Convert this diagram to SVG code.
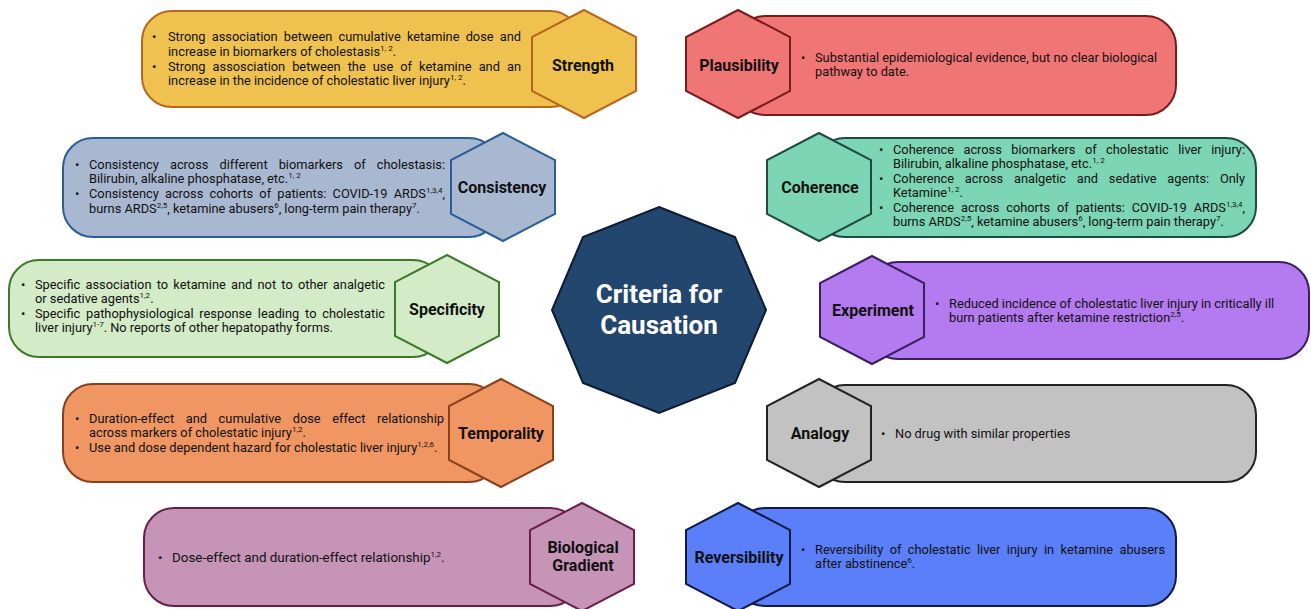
<svg xmlns="http://www.w3.org/2000/svg" width="1311" height="609" viewBox="0 0 1311 609">
<style>
text{font-family:Roboto,"Liberation Sans",Arial,sans-serif;fill:#111;}
.b{font-size:12.8px;}
.bg{font-size:13.4px;}
.lbl{font-size:16px;font-weight:bold;text-anchor:middle;}
.s{font-size:8px;}
.box{stroke-width:2;}
.hex{stroke-width:2;}
.title{font-size:26px;font-weight:bold;fill:#fff;text-anchor:middle;}
</style>
<rect width="1311" height="609" fill="#fff"/>
<g id="connectors"/>

<!-- Strength -->
<g id="strength">
<rect class="box" x="142" y="11" width="438" height="96" rx="30" fill="#EFC14E" stroke="#B8661C"/>
<text class="b" x="152" y="41">•</text>
<text class="b" x="168" y="41" word-spacing="3" textLength="353" lengthAdjust="spacing">Strong association between cumulative ketamine dose and</text>
<text class="b" x="168" y="56">increase in biomarkers of cholestasis<tspan class="s" dy="-5">1, 2</tspan><tspan dy="5">.</tspan></text>
<text class="b" x="152" y="71">•</text>
<text class="b" x="168" y="71" word-spacing="3.9" textLength="353" lengthAdjust="spacing">Strong assosciation between the use of ketamine and an</text>
<text class="b" x="168" y="85">increase in the incidence of cholestatic liver injury<tspan class="s" dy="-5">1, 2</tspan><tspan dy="5">.</tspan></text>
<polygon class="hex" points="584,10 636,37 636,91 584,118 532,91 532,37" fill="#EFC14E" stroke="#B8661C"/>
<text class="lbl" x="583" y="71">Strength</text>
</g>

<!-- Consistency -->
<g id="consistency">
<rect class="box" x="63" y="138" width="436" height="99" rx="30" fill="#A9B8D1" stroke="#2B5D96"/>
<text class="b" x="75" y="169">•</text>
<text class="b" x="89" y="169" word-spacing="7.9" textLength="356" lengthAdjust="spacing">Consistency across different biomarkers of cholestasis:</text>
<text class="b" x="89" y="183">Bilirubin, alkaline phosphatase, etc.<tspan class="s" dy="-5">1, 2</tspan></text>
<text class="b" x="75" y="198">•</text>
<text class="b" x="89" y="198" word-spacing="3" textLength="356" lengthAdjust="spacing">Consistency across cohorts of patients: COVID-19 ARDS<tspan class="s" dy="-5">1,3,4</tspan><tspan dy="5">,</tspan></text>
<text class="b" x="89" y="213">burns ARDS<tspan class="s" dy="-5">2,5</tspan><tspan dy="5">, ketamine abusers</tspan><tspan class="s" dy="-5">6</tspan><tspan dy="5">, long-term pain therapy</tspan><tspan class="s" dy="-5">7</tspan><tspan dy="5">.</tspan></text>
<polygon class="hex" points="503,133 555,160 555,214 503,241 451,214 451,160" fill="#A9B8D1" stroke="#2B5D96"/>
<text class="lbl" x="502" y="193">Consistency</text>
</g>

<!-- Specificity -->
<g id="specificity">
<rect class="box" x="9" y="260" width="434" height="97" rx="30" fill="#D4EBC7" stroke="#3B7A27"/>
<text class="b" x="21" y="289">•</text>
<text class="b" x="35" y="289" word-spacing="2" textLength="350" lengthAdjust="spacing">Specific association to ketamine and not to other analgetic</text>
<text class="b" x="35" y="303">or sedative agents<tspan class="s" dy="-5">1,2</tspan><tspan dy="5">.</tspan></text>
<text class="b" x="21" y="318">•</text>
<text class="b" x="35" y="318" word-spacing="2.7" textLength="350" lengthAdjust="spacing">Specific pathophysiological response leading to cholestatic</text>
<text class="b" x="35" y="332">liver injury<tspan class="s" dy="-5">1-7</tspan><tspan dy="5">. No reports of other hepatopathy forms.</tspan></text>
<polygon class="hex" points="447,255 499,282 499,336 447,363 395,336 395,282" fill="#D4EBC7" stroke="#3B7A27"/>
<text class="lbl" x="447" y="315">Specificity</text>
</g>

<!-- Temporality -->
<g id="temporality">
<rect class="box" x="63" y="384" width="436" height="98" rx="30" fill="#EF9662" stroke="#8B3F1C"/>
<text class="b" x="75" y="423">•</text>
<text class="b" x="89" y="423" word-spacing="8.4" textLength="355" lengthAdjust="spacing">Duration-effect and cumulative dose effect relationship</text>
<text class="b" x="89" y="437">across markers of cholestatic injury<tspan class="s" dy="-5">1,2</tspan><tspan dy="5">.</tspan></text>
<text class="b" x="75" y="452">•</text>
<text class="b" x="89" y="452">Use and dose dependent hazard for cholestatic liver injury<tspan class="s" dy="-5">1,2,6</tspan><tspan dy="5">.</tspan></text>
<polygon class="hex" points="501,379 553,406 553,460 501,487 449,460 449,406" fill="#EF9662" stroke="#8B3F1C"/>
<text class="lbl" x="501" y="439">Temporality</text>
</g>

<!-- Biological Gradient -->
<g id="biological-gradient">
<rect class="box" x="144" y="508" width="436" height="98" rx="30" fill="#C594B6" stroke="#6A1D48"/>
<text class="bg" x="158" y="562">•</text>
<text class="bg" x="172" y="562">Dose-effect and duration-effect relationship<tspan class="s" dy="-5">1,2</tspan><tspan dy="5">.</tspan></text>
<polygon class="hex" points="582,503 634,530 634,584 582,611 530,584 530,530" fill="#C594B6" stroke="#6A1D48"/>
<text class="lbl" x="583" y="553">Biological</text>
<text class="lbl" x="583" y="571">Gradient</text>
</g>

<!-- Plausibility -->
<g id="plausibility">
<rect class="box" x="735" y="16" width="441" height="99" rx="30" fill="#F07575" stroke="#7B1C1C"/>
<text class="b" x="801" y="62">•</text>
<text class="b" x="815" y="62">Substantial epidemiological evidence, but no clear biological</text>
<text class="b" x="815" y="76">pathway to date.</text>
<polygon class="hex" points="738,10 790,37 790,91 738,118 686,91 686,37" fill="#F07575" stroke="#7B1C1C"/>
<text class="lbl" x="739" y="71">Plausibility</text>
</g>

<!-- Coherence -->
<g id="coherence">
<rect class="box" x="815" y="138" width="441" height="99" rx="30" fill="#7CD6B5" stroke="#1E4A44"/>
<text class="b" x="879" y="154">•</text>
<text class="b" x="893" y="154" word-spacing="6.3" textLength="352" lengthAdjust="spacing">Coherence across biomarkers of cholestatic liver injury:</text>
<text class="b" x="893" y="168">Bilirubin, alkaline phosphatase, etc.<tspan class="s" dy="-5">1, 2</tspan></text>
<text class="b" x="879" y="183">•</text>
<text class="b" x="893" y="183" word-spacing="7.6" textLength="352" lengthAdjust="spacing">Coherence across analgetic and sedative agents: Only</text>
<text class="b" x="893" y="197">Ketamine<tspan class="s" dy="-5">1, 2</tspan><tspan dy="5">.</tspan></text>
<text class="b" x="879" y="212">•</text>
<text class="b" x="893" y="212" word-spacing="3.8" textLength="352" lengthAdjust="spacing">Coherence across cohorts of patients: COVID-19 ARDS<tspan class="s" dy="-5">1,3,4</tspan><tspan dy="5">,</tspan></text>
<text class="b" x="893" y="226">burns ARDS<tspan class="s" dy="-5">2,5</tspan><tspan dy="5">, ketamine abusers</tspan><tspan class="s" dy="-5">6</tspan><tspan dy="5">, long-term pain therapy</tspan><tspan class="s" dy="-5">7</tspan><tspan dy="5">.</tspan></text>
<polygon class="hex" points="819,133 871,160 871,214 819,241 767,214 767,160" fill="#7CD6B5" stroke="#1E4A44"/>
<text class="lbl" x="820" y="193">Coherence</text>
</g>

<!-- Experiment -->
<g id="experiment">
<rect class="box" x="868" y="262" width="441" height="97" rx="30" fill="#B47AEF" stroke="#3B1E5E"/>
<text class="b" x="935" y="308">•</text>
<text class="b" x="949" y="308">Reduced incidence of cholestatic liver injury in critically ill</text>
<text class="b" x="949" y="322">burn patients after ketamine restriction<tspan class="s" dy="-5">2,5</tspan><tspan dy="5">.</tspan></text>
<polygon class="hex" points="872,256 924,283 924,337 872,364 820,337 820,283" fill="#B47AEF" stroke="#3B1E5E"/>
<text class="lbl" x="873" y="316">Experiment</text>
</g>

<!-- Analogy -->
<g id="analogy">
<rect class="box" x="815" y="385" width="441" height="97" rx="30" fill="#C2C2C2" stroke="#222"/>
<text class="b" x="881" y="438">•</text>
<text class="b" x="895" y="438">No drug with similar properties</text>
<polygon class="hex" points="819,379 871,406 871,460 819,487 767,460 767,406" fill="#C2C2C2" stroke="#222"/>
<text class="lbl" x="820" y="439">Analogy</text>
</g>

<!-- Reversibility -->
<g id="reversibility">
<rect class="box" x="735" y="508" width="441" height="98" rx="30" fill="#5A7FF8" stroke="#0F1A45"/>
<text class="b" x="801" y="554">•</text>
<text class="b" x="815" y="554" word-spacing="3.2" textLength="350" lengthAdjust="spacing">Reversibility of cholestatic liver injury in ketamine abusers</text>
<text class="b" x="815" y="568">after abstinence<tspan class="s" dy="-5">6</tspan><tspan dy="5">.</tspan></text>
<polygon class="hex" points="738,503 790,530 790,584 738,611 686,584 686,530" fill="#5A7FF8" stroke="#0F1A45"/>
<text class="lbl" x="739" y="563">Reversibility</text>
</g>

<!-- Center -->
<g id="criteria">
<polygon points="659,207 735,237 766,310 735,383 659,413 583,383 552,310 583,237" fill="#23466F" stroke="#0D1B33" stroke-width="2"/>
<text class="title" x="659" y="303">Criteria for</text>
<text class="title" x="659" y="334">Causation</text>
</g>
</svg>
